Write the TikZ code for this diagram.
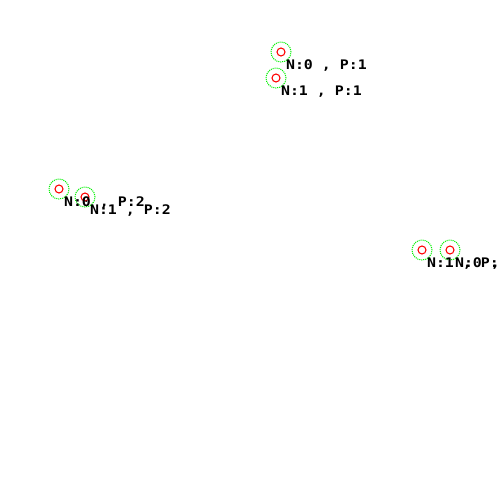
\documentclass[tikz,border=0pt]{standalone}
\usepackage{fontspec}
\usepackage{tikz}
\usetikzlibrary{positioning}
\usepackage{xcolor}
\newfontfamily\monolabel[FakeStretch=1.13]{DejaVu Sans Mono}
\definecolor{ptred}{RGB}{255,0,0}
\definecolor{ptgreen}{RGB}{0,240,0}

\begin{document}
\begin{tikzpicture}[x=0.02cm,y=-0.02cm,
        halo/.style={circle,draw=ptgreen,line width=0.6pt,dash pattern=on 0.57pt off 0.57pt,minimum size=0.4cm,inner sep=0pt},
        pt/.style={circle,draw=ptred,line width=0.6pt,minimum size=0.16cm,inner sep=0pt},
        lbl/.style={inner sep=0pt,font=\monolabel\bfseries\fontsize{7.5}{8}\selectfont}]
            \useasboundingbox (0,0) rectangle (500,500);
            \clip (0,0) rectangle (500,500);
            \node [halo] (h1) at (281,52) {};
            \node [halo] (h2) at (276,78) {};
            \node [halo] (h3) at (59,189) {};
            \node [halo] (h4) at (85,197) {};
            \node [halo] (h5) at (422,250) {};
            \node [halo] (h6) at (450,250) {};

            \node [pt] (p1) at (h1) {};
            \node [pt] (p2) at (h2) {};
            \node [pt] (p3) at (h3) {};
            \node [pt] (p4) at (h4) {};
            \node [pt] (p5) at (h5) {};
            \node [pt] (p6) at (h6) {};

            \node [lbl,below right=0.09cm and 0.03cm of p1] (l1) {N:0 , P:1};
            \node [lbl,below right=0.09cm and 0.03cm of p2] (l2) {N:1 , P:1};
            \node [lbl,below right=0.09cm and 0.03cm of p3] (l3) {N:0 , P:2};
            \node [lbl,below right=0.09cm and 0.03cm of p4] (l4) {N:1 , P:2};
            \node [lbl,below right=0.09cm and 0.03cm of p5] (l5) {N:1 , P:};
            \node [lbl,below right=0.09cm and 0.03cm of p6] (l6) {N:0 , P};
        \end{tikzpicture}
\end{document}
